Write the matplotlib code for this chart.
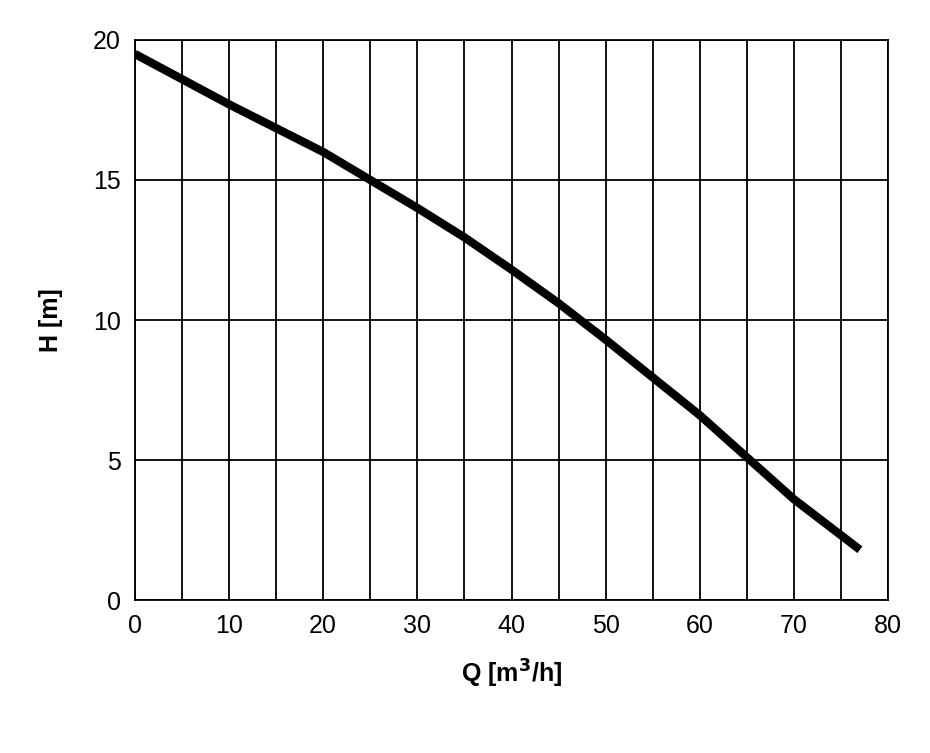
import matplotlib
matplotlib.use("Agg")
import matplotlib.pyplot as plt
import numpy as np

plt.rcParams["font.family"] = "Liberation Sans"

q = [0, 5, 10, 15, 20, 25, 30, 35, 40, 45, 50, 55, 60, 65, 70, 77]
h = [19.5, 18.6, 17.7, 16.85, 16.0, 15.0, 14.0, 12.95, 11.8, 10.6, 9.3, 7.95, 6.6, 5.1, 3.6, 1.8]

fig = plt.figure(figsize=(9.3, 7.53), dpi=100)
ax = fig.add_axes([0.145, 0.203, 0.81, 0.744])
ax.plot(q, h, color="black", lw=6, solid_capstyle="butt", solid_joinstyle="round")
ax.set_xlim(0, 80)
ax.set_ylim(0, 20)
ax.set_xticks(np.arange(0, 81, 10))
ax.set_xticks(np.arange(0, 81, 5), minor=True)
ax.set_yticks(np.arange(0, 21, 5))
ax.grid(True, which="both", axis="x", color="black", lw=1.3)
ax.grid(True, which="major", axis="y", color="black", lw=1.3)
ax.tick_params(which="both", length=0, labelsize=18, pad=10)
for s in ax.spines.values():
    s.set_linewidth(1.3)
ax.set_xlabel("Q [m$^\\mathbf{3}$/h]", fontsize=18, fontweight="bold", labelpad=14)
ax.set_ylabel("H [m]", fontsize=18, fontweight="bold", labelpad=22)
fig.savefig("out.png", dpi=100)
